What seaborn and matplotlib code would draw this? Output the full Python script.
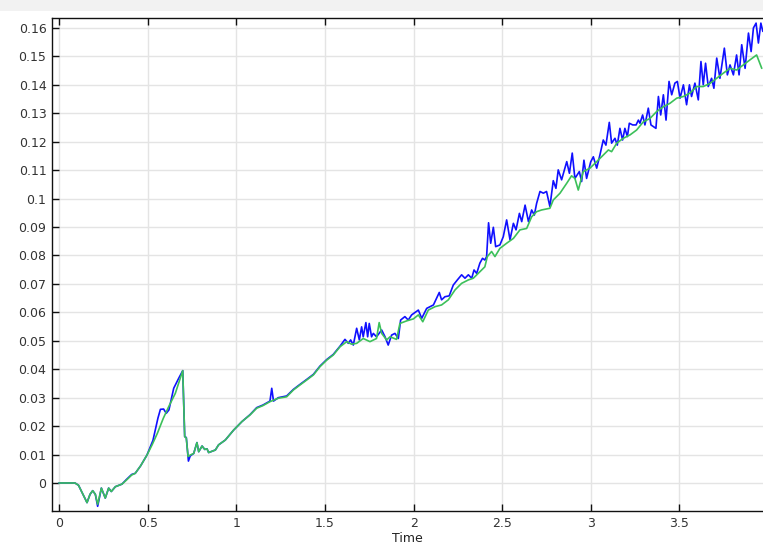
import matplotlib
matplotlib.use("Agg")
import matplotlib.pyplot as plt
import seaborn as sns
import pandas as pd
from matplotlib.patches import Rectangle

# ---- data ----
green_t = [0.0, 0.05, 0.09, 0.11, 0.135, 0.158, 0.175, 0.19, 0.205, 0.218, 0.239, 0.261, 0.28, 0.295,
           0.318, 0.355, 0.38, 0.41, 0.43, 0.46, 0.496, 0.525, 0.555, 0.588, 0.62, 0.656, 0.698, 0.709,
           0.718, 0.728, 0.74, 0.76, 0.778, 0.788, 0.807, 0.822, 0.835, 0.844, 0.882, 0.9, 0.938, 0.985,
           1.032, 1.077, 1.115, 1.15, 1.19, 1.237, 1.284, 1.322, 1.36, 1.397, 1.435, 1.472, 1.51, 1.547,
           1.585, 1.623, 1.65, 1.679, 1.716, 1.754, 1.791, 1.806, 1.82, 1.848, 1.867, 1.904, 1.923, 1.961,
           1.999, 2.027, 2.052, 2.083, 2.121, 2.158, 2.196, 2.234, 2.271, 2.309, 2.337, 2.374, 2.402, 2.416,
           2.44, 2.459, 2.487, 2.525, 2.563, 2.6, 2.638, 2.666, 2.694, 2.722, 2.769, 2.788, 2.826, 2.864,
           2.891, 2.91, 2.929, 2.957, 2.995, 3.033, 3.07, 3.099, 3.117, 3.146, 3.183, 3.221, 3.258, 3.296,
           3.334, 3.371, 3.409, 3.446, 3.484, 3.522, 3.559, 3.597, 3.634, 3.672, 3.71, 3.747, 3.785, 3.822,
           3.86, 3.898, 3.935, 3.964]
green_y = [0.0, 0.0, 0.0, -0.0008, -0.004, -0.0069, -0.004, -0.0027, -0.004, -0.0075, -0.0018, -0.0053,
           -0.0018, -0.003, -0.0013, -0.0004, 0.001, 0.0028, 0.0034, 0.006, 0.0098, 0.0134, 0.0175, 0.0227,
           0.027, 0.0315, 0.0395, 0.0163, 0.0158, 0.0093, 0.0098, 0.0104, 0.0142, 0.011, 0.013, 0.0118,
           0.012, 0.0107, 0.0116, 0.0134, 0.0151, 0.0186, 0.0216, 0.0239, 0.0263, 0.0272, 0.0286, 0.0298,
           0.0303, 0.0327, 0.0345, 0.0362, 0.038, 0.0409, 0.0432, 0.045, 0.0479, 0.0497, 0.0488, 0.0491,
           0.0508, 0.0497, 0.0508, 0.0564, 0.0526, 0.0503, 0.0514, 0.0505, 0.0561, 0.057, 0.0577, 0.0591,
           0.0567, 0.0608, 0.062, 0.0626, 0.0644, 0.0679, 0.0702, 0.0714, 0.072, 0.0743, 0.076, 0.0796,
           0.0814, 0.0796, 0.0825, 0.0843, 0.086, 0.089, 0.0895, 0.0936, 0.0954, 0.096, 0.0966, 0.0995,
           0.1019, 0.1054, 0.108, 0.1071, 0.103, 0.1095, 0.1107, 0.113, 0.1153, 0.1171, 0.1165, 0.1195,
           0.1212, 0.1224, 0.1241, 0.127, 0.1282, 0.1306, 0.1323, 0.1335, 0.1353, 0.1359, 0.1371, 0.1394,
           0.1394, 0.1405, 0.1423, 0.1441, 0.1458, 0.1452, 0.147, 0.1488, 0.1505, 0.1458]

blue_t = [0.0, 0.05, 0.09, 0.11, 0.135, 0.158, 0.175, 0.19, 0.205, 0.218, 0.239, 0.261, 0.28, 0.295,
          0.318, 0.355, 0.38, 0.41, 0.43, 0.46, 0.496, 0.53, 0.558, 0.572, 0.59, 0.605, 0.62, 0.647, 0.675,
          0.698, 0.709, 0.718, 0.73, 0.74, 0.76, 0.778, 0.788, 0.807, 0.822, 0.835, 0.844, 0.882, 0.9,
          0.938, 0.985, 1.032, 1.077, 1.115, 1.15, 1.19, 1.2, 1.21, 1.237, 1.284, 1.322, 1.36, 1.397,
          1.435, 1.472, 1.51, 1.547, 1.585, 1.613, 1.632, 1.645, 1.66, 1.679, 1.694, 1.707, 1.716, 1.731,
          1.741, 1.75, 1.763, 1.773, 1.791, 1.82, 1.839, 1.857, 1.876, 1.895, 1.914, 1.927, 1.951, 1.97,
          1.989, 2.027, 2.046, 2.074, 2.112, 2.145, 2.158, 2.177, 2.201, 2.224, 2.247, 2.271, 2.29, 2.309,
          2.328, 2.341, 2.356, 2.374, 2.389, 2.402, 2.412, 2.423, 2.435, 2.45, 2.463, 2.487, 2.506, 2.525,
          2.544, 2.563, 2.578, 2.597, 2.61, 2.629, 2.648, 2.666, 2.681, 2.694, 2.713, 2.732, 2.75, 2.769,
          2.788, 2.803, 2.816, 2.835, 2.864, 2.879, 2.895, 2.91, 2.935, 2.948, 2.961, 2.976, 2.999, 3.014,
          3.033, 3.051, 3.07, 3.085, 3.104, 3.117, 3.136, 3.149, 3.164, 3.179, 3.192, 3.206, 3.217, 3.236,
          3.255, 3.268, 3.277, 3.292, 3.305, 3.324, 3.339, 3.367, 3.381, 3.394, 3.409, 3.424, 3.441, 3.456,
          3.474, 3.488, 3.503, 3.522, 3.54, 3.556, 3.568, 3.587, 3.606, 3.621, 3.634, 3.647, 3.662, 3.681,
          3.694, 3.71, 3.728, 3.753, 3.77, 3.785, 3.804, 3.822, 3.836, 3.851, 3.87, 3.889, 3.904, 3.917,
          3.932, 3.945, 3.959, 3.97]
blue_y = [0.0, 0.0, 0.0, -0.0008, -0.004, -0.0069, -0.004, -0.0027, -0.004, -0.0082, -0.0018, -0.0053,
          -0.0018, -0.003, -0.0013, -0.0004, 0.0012, 0.003, 0.0034, 0.006, 0.0098, 0.015, 0.0228, 0.0259,
          0.026, 0.0245, 0.0257, 0.0333, 0.0368, 0.0395, 0.0163, 0.016, 0.0077, 0.0095, 0.0104, 0.0142,
          0.011, 0.013, 0.0118, 0.012, 0.0107, 0.0116, 0.0134, 0.0151, 0.0186, 0.0216, 0.024, 0.0265,
          0.0274, 0.0288, 0.0333, 0.0288, 0.03, 0.0306, 0.0329, 0.0347, 0.0364, 0.0382, 0.0411, 0.0434,
          0.0452, 0.0481, 0.0505, 0.0491, 0.0503, 0.0485, 0.0544, 0.0503, 0.0549, 0.0514, 0.0564, 0.0514,
          0.0561, 0.0514, 0.0526, 0.0514, 0.0538, 0.0514, 0.0485, 0.052, 0.0526, 0.0508, 0.0573, 0.0585,
          0.0573, 0.0591, 0.0608, 0.0579, 0.0614, 0.0626, 0.067, 0.0644, 0.0655, 0.0658, 0.0696, 0.0714,
          0.0732, 0.072, 0.0732, 0.072, 0.0749, 0.0737, 0.0773, 0.079, 0.0784, 0.0796, 0.0915, 0.0843,
          0.0899, 0.0831, 0.0837, 0.0866, 0.0925, 0.0855, 0.0913, 0.089, 0.0948, 0.0919, 0.0977, 0.0919,
          0.096, 0.0942, 0.0983, 0.1025, 0.1019, 0.1025, 0.0972, 0.1063, 0.1036, 0.1101, 0.1066, 0.113,
          0.1089, 0.116, 0.1071, 0.1095, 0.106, 0.1135, 0.1071, 0.1129, 0.1147, 0.1107, 0.1153, 0.1206,
          0.1188, 0.1268, 0.1195, 0.1212, 0.1188, 0.1247, 0.1206, 0.1247, 0.1218, 0.1265, 0.1259, 0.1259,
          0.1276, 0.1265, 0.1294, 0.1259, 0.1318, 0.1259, 0.1247, 0.1359, 0.1294, 0.1365, 0.1276, 0.1412,
          0.1365, 0.1406, 0.1412, 0.1353, 0.14, 0.133, 0.14, 0.1359, 0.1406, 0.1347, 0.1482, 0.14, 0.1476,
          0.1394, 0.1423, 0.1388, 0.1494, 0.1423, 0.1529, 0.1435, 0.147, 0.1435, 0.1505, 0.1435, 0.1541,
          0.1458, 0.1582, 0.1517, 0.16, 0.1617, 0.1547, 0.1617, 0.1588]

x_ticks = [0, 0.5, 1, 1.5, 2, 2.5, 3, 3.5]
x_tick_labels = ["0", "0.5", "1", "1.5", "2", "2.5", "3", "3.5"]
y_ticks = [0, 0.01, 0.02, 0.03, 0.04, 0.05, 0.06, 0.07, 0.08, 0.09, 0.1, 0.11, 0.12, 0.13, 0.14, 0.15, 0.16]
y_tick_labels = ["0", "0.01", "0.02", "0.03", "0.04", "0.05", "0.06", "0.07", "0.08", "0.09", "0.1",
                 "0.11", "0.12", "0.13", "0.14", "0.15", "0.16"]
x_label = "Time"

# ---- plotting ----
sns.set_theme(style="white")
plt.rcParams['font.family'] = ['DejaVu Sans']

fig = plt.figure(figsize=(7.63, 5.44), dpi=100, facecolor="white")
fig.patches.append(Rectangle((0, 1 - 11 / 544), 1, 11 / 544, transform=fig.transFigure,
                             facecolor="#f2f2f2", edgecolor="none", zorder=0))
ax = fig.add_axes([52 / 763, 1 - 511 / 544, 1 - 52 / 763, (511 - 18) / 544])

df_blue = pd.DataFrame({"Time": blue_t, "value": blue_y})
df_green = pd.DataFrame({"Time": green_t, "value": green_y})
sns.lineplot(data=df_blue, x="Time", y="value", ax=ax, color="#1010ff", linewidth=1.2,
             estimator=None, sort=False)
sns.lineplot(data=df_green, x="Time", y="value", ax=ax, color="#3cc05a", linewidth=1.2,
             estimator=None, sort=False)

ax.set_xlim(-0.0395, 3.971)
ax.set_ylim(-0.00985, 0.1635)
ax.set_xticks(x_ticks)
ax.set_xticklabels(x_tick_labels)
ax.set_yticks(y_ticks)
ax.set_yticklabels(y_tick_labels)
ax.set_xlabel(x_label, fontsize=9, color="#222222", labelpad=2)
ax.set_ylabel("")

ax.grid(True, color="#e4e4e4", linewidth=1.0)
ax.set_axisbelow(True)
for s in ["left", "bottom", "top"]:
    ax.spines[s].set_visible(True)
    ax.spines[s].set_color("#111111")
    ax.spines[s].set_linewidth(1.0)
ax.spines["right"].set_visible(False)
ax.tick_params(axis="both", direction="in", length=5, width=1, color="#111111",
               labelsize=9, labelcolor="#333333", pad=4)
ax.tick_params(axis="x", top=True, bottom=True)
ax.tick_params(axis="y", left=True, right=False)

fig.savefig("out.png", dpi=100, facecolor=fig.get_facecolor())
